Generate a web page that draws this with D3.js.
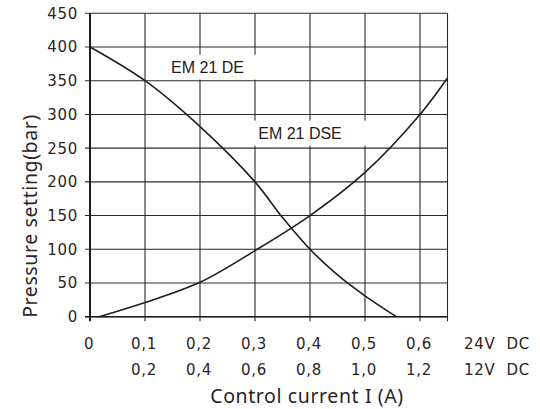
<!DOCTYPE html>
<html lang="en">
<head>
	<meta charset="utf-8">
	<title>Pressure setting vs control current</title>
	<script src="https://d3js.org/d3.v7.min.js"></script>
	<style>
	body { margin: 0; background: #fff; }
	.grid line { stroke: #2f2828; stroke-width: 1.1px; }
	.axisline { stroke: #231c1c; stroke-width: 2px; }
	.curve { fill: none; stroke: #231c1c; stroke-width: 1.6px; }
	.tick { font-family: "DejaVu Sans", sans-serif; font-size: 15px; letter-spacing: 0.7px; fill: #2a2424; }
	.title { font-family: "Noto Sans", sans-serif; font-size: 19.5px; letter-spacing: 0.6px; fill: #2a2424; }
	.label { font-family: "Liberation Sans", Arial, sans-serif; font-size: 16px; fill: #231c1c; }
	</style>
</head>
<body>
	<script>
		var w = 540, h = 409;

		// axis ticks
		var yTicks = [0, 50, 100, 150, 200, 250, 300, 350, 400, 450];
		var xTicks = [0, 0.1, 0.2, 0.3, 0.4, 0.5, 0.6];
		var xLabels24 = ["0", "0,1", "0,2", "0,3", "0,4", "0,5", "0,6"];
		var xLabels12 = ["", "0,2", "0,4", "0,6", "0,8", "1,0", "1,2"];

		// EM 21 DE (falling curve) - current (A, 24V) / pressure (bar)
		var deCurrent  = [0, 0.1, 0.2, 0.3, 0.35, 0.4, 0.45, 0.5, 0.557];
		var dePressure = [400, 350, 282, 200, 147, 100, 62, 31, 0];

		// EM 21 DSE (rising curve)
		var dseCurrent  = [0.017, 0.1, 0.2, 0.3, 0.4, 0.5, 0.6, 0.65];
		var dsePressure = [0, 21, 51, 98, 150, 214, 300, 354];

		var svg = d3.select("body").append("svg")
			.attr("width", w)
			.attr("height", h);

		var x = d3.scaleLinear().domain([0, 0.65]).range([90, 447.5]);
		var y = d3.scaleLinear().domain([0, 450]).range([316.7, 13.3]);

		// grid
		var grid = svg.append("g").attr("class", "grid");
		grid.selectAll("line.h")
			.data(yTicks)
			.enter().append("line")
			.attr("class", "h")
			.attr("x1", 85).attr("x2", x(0.65))
			.attr("y1", function(d) { return y(d); })
			.attr("y2", function(d) { return y(d); });
		grid.selectAll("line.v")
			.data(xTicks.slice(1).concat([0.65]))
			.enter().append("line")
			.attr("class", "v")
			.attr("x1", function(d) { return x(d); })
			.attr("x2", function(d) { return x(d); })
			.attr("y1", y(450)).attr("y2", y(0) + 4.5);

		svg.append("line").attr("class", "axisline")
			.attr("x1", x(0)).attr("x2", x(0))
			.attr("y1", y(450)).attr("y2", y(0) + 4.5);
		svg.append("line").attr("class", "axisline")
			.attr("x1", 85).attr("x2", x(0.65))
			.attr("y1", y(0)).attr("y2", y(0))
			.style("stroke-width", "1.6px");

		// curves
		var line = d3.line()
			.x(function(d) { return x(d[0]); })
			.y(function(d) { return y(d[1]); })
			.curve(d3.curveCatmullRom.alpha(0.5));

		svg.append("path").attr("class", "curve")
			.attr("d", line(d3.zip(deCurrent, dePressure)));
		svg.append("path").attr("class", "curve")
			.attr("d", line(d3.zip(dseCurrent, dsePressure)));

		// curve labels on white boxes
		function addLabel(txt, cx, cy, padL, padR) {
			var g = svg.append("g");
			var rect = g.append("rect").attr("fill", "#fff");
			var t = g.append("text").attr("class", "label")
				.attr("x", cx).attr("y", cy)
				.attr("text-anchor", "middle")
				.attr("dy", "0.35em")
				.text(txt);
			var b = t.node().getBBox();
			rect.attr("x", b.x - padL).attr("y", b.y - 4)
				.attr("width", b.width + padL + padR)
				.attr("height", b.height + 8);
		}
		addLabel("EM 21 DE", 207.5, 67, 13, 14);
		addLabel("EM 21 DSE", 300, 133, 9, 26);

		// y tick labels
		svg.selectAll("text.ylab")
			.data(yTicks)
			.enter().append("text")
			.attr("class", "tick ylab")
			.attr("x", 78)
			.attr("y", function(d) { return y(d); })
			.attr("dy", "0.36em")
			.attr("text-anchor", "end")
			.text(function(d) { return d; });

		// x tick labels, two rows
		svg.selectAll("text.x24")
			.data(xTicks)
			.enter().append("text")
			.attr("class", "tick x24")
			.attr("x", function(d) { return x(d) - 1; })
			.attr("y", 349)
			.attr("text-anchor", "middle")
			.text(function(d, i) { return xLabels24[i]; });
		svg.selectAll("text.x12")
			.data(xTicks)
			.enter().append("text")
			.attr("class", "tick x12")
			.attr("x", function(d) { return x(d) - 1; })
			.attr("y", 375)
			.attr("text-anchor", "middle")
			.text(function(d, i) { return xLabels12[i]; });

		svg.append("text").attr("class", "tick")
			.attr("x", 464).attr("y", 349)
			.style("white-space", "pre")
			.text("24V  DC");
		svg.append("text").attr("class", "tick")
			.attr("x", 464).attr("y", 375)
			.style("white-space", "pre")
			.text("12V  DC");

		// axis titles
		svg.append("text").attr("class", "title")
			.attr("x", 307).attr("y", 403)
			.attr("text-anchor", "middle")
			.text("Control current I (A)");
		svg.append("text").attr("class", "title")
			.attr("transform", "translate(37,216) rotate(-90)")
			.attr("text-anchor", "middle")
			.text("Pressure setting(bar)");
	</script>
</body>
</html>
